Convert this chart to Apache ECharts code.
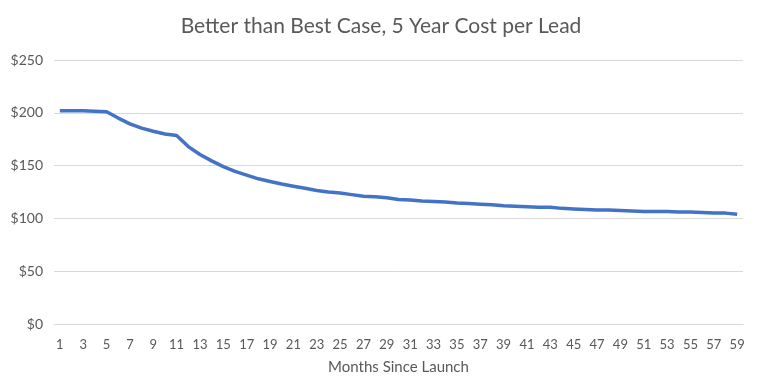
<!DOCTYPE html>
<html>
<head>
<meta charset="utf-8">
<script src="https://cdn.jsdelivr.net/npm/echarts@6/dist/echarts.min.js"></script>
<style>
  html, body { margin: 0; padding: 0; background: #fff; }
  #chart { width: 762px; height: 392px; }
</style>
</head>
<body>
<div id="chart"></div>
<script>
// months 1..59
var months = [];
for (var m = 1; m <= 59; m++) months.push(String(m));

// cost per lead
var costPerLead = [
  202, 202, 202, 201.5, 201, 195, 189.5, 185.5, 182.5, 180,
  178.5, 168, 160.5, 154.5, 149, 144.5, 141, 137.5, 135, 132.5,
  130.5, 128.5, 126.5, 125, 124, 122.5, 121, 120.5, 119.5, 118,
  117.5, 116.5, 116, 115.5, 114.5, 114, 113.5, 113, 112, 111.5,
  111, 110.5, 110.5, 109.5, 109, 108.5, 108, 108, 107.5, 107,
  106.5, 106.5, 106.5, 106, 106, 105.5, 105, 105, 104
];

var chart = echarts.init(document.getElementById('chart'));
var option = {
  animation: false,
  title: {
    text: 'Better than Best Case, 5 Year Cost per Lead',
    left: 'center',
    top: 11,
    textStyle: { fontFamily: 'Lato', fontSize: 21, fontWeight: 'normal', color: '#595959' }
  },
  grid: { left: 54, right: 19, top: 60, bottom: 68 },
  xAxis: {
    type: 'category',
    data: months,
    name: 'Months Since Launch',
    nameLocation: 'middle',
    nameGap: 36,
    nameTextStyle: { fontFamily: 'Lato', fontSize: 15, color: '#595959' },
    axisLine: { lineStyle: { color: '#d9d9d9', width: 1 } },
    axisTick: { show: false },
    axisLabel: { interval: 1, fontFamily: 'Lato', fontSize: 13, color: '#595959', margin: 14 }
  },
  yAxis: {
    type: 'value',
    min: 0,
    max: 250,
    interval: 50,
    axisLine: { show: false },
    axisTick: { show: false },
    axisLabel: {
      fontFamily: 'Lato', fontSize: 14, color: '#595959', margin: 11,
      formatter: function (v) { return '$' + v; }
    },
    splitLine: { lineStyle: { color: '#d9d9d9', width: 1 } }
  },
  series: [{
    type: 'line',
    data: costPerLead,
    symbol: 'none',
    smooth: false,
    lineStyle: { color: '#4472c4', width: 3.5 }
  }]
};
chart.setOption(option);
</script>
</body>
</html>
